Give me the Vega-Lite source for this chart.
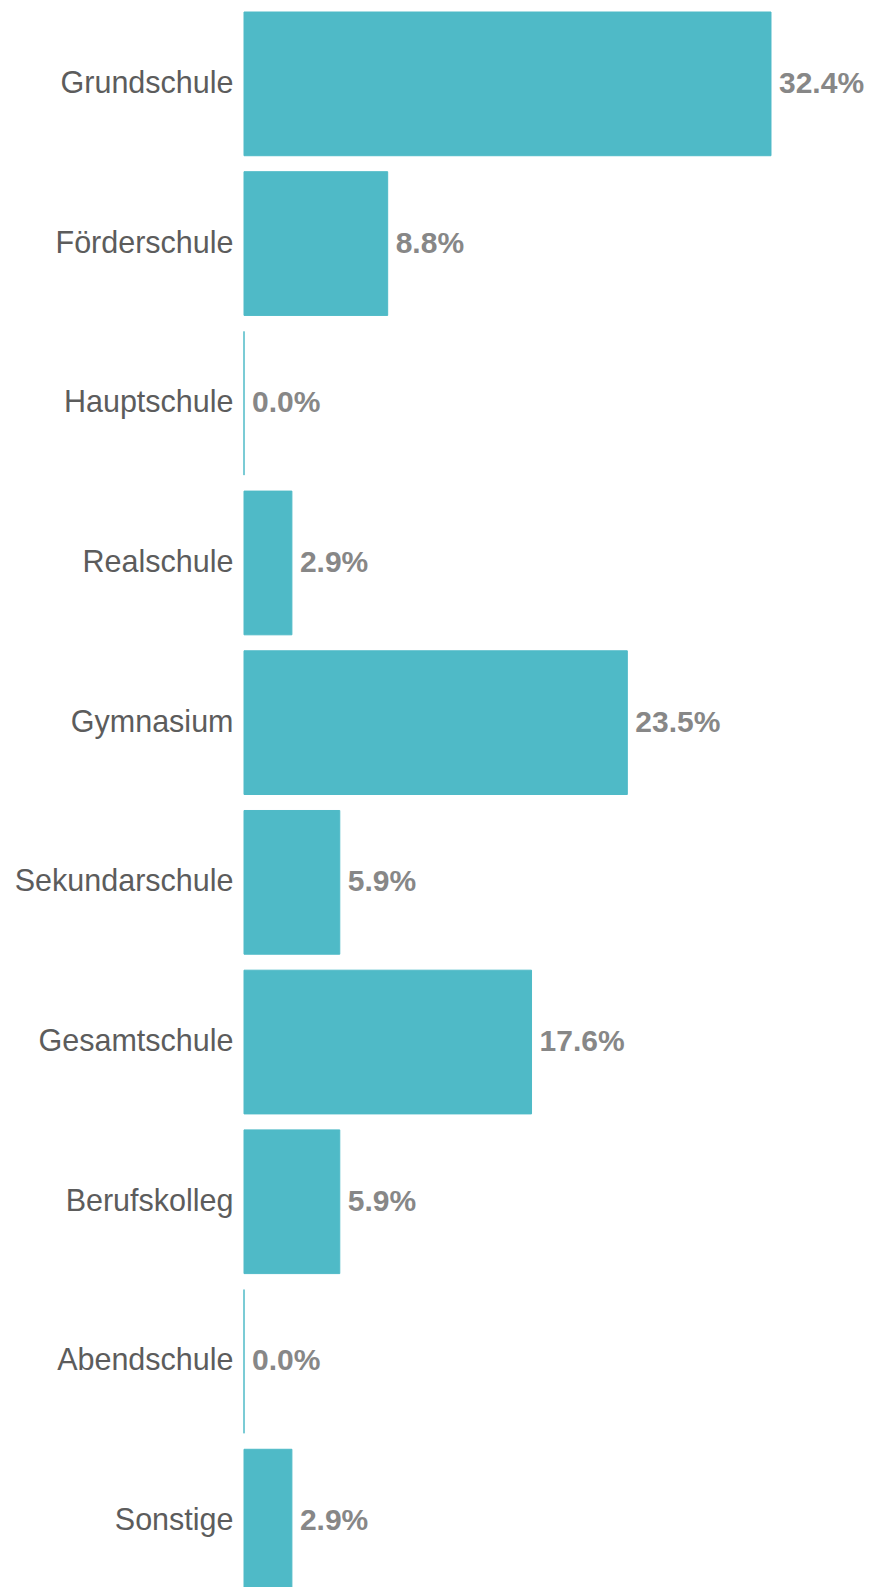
{
  "$schema": "https://vega.github.io/schema/vega-lite/v6.json",
  "autosize": {"type": "none"},
  "padding": {"left": 244, "top": 12, "right": 0, "bottom": 0},
  "width": 628,
  "height": 1581,
  "background": "white",
  "config": {"view": {"stroke": null}},
  "data": {
    "values": [
      {"schulform": "Grundschule", "anteil": 0.3235},
      {"schulform": "Förderschule", "anteil": 0.0882},
      {"schulform": "Hauptschule", "anteil": 0.0},
      {"schulform": "Realschule", "anteil": 0.0294},
      {"schulform": "Gymnasium", "anteil": 0.2353},
      {"schulform": "Sekundarschule", "anteil": 0.0588},
      {"schulform": "Gesamtschule", "anteil": 0.1765},
      {"schulform": "Berufskolleg", "anteil": 0.0588},
      {"schulform": "Abendschule", "anteil": 0.0},
      {"schulform": "Sonstige", "anteil": 0.0294}
    ]
  },
  "encoding": {
    "y": {
      "field": "schulform",
      "type": "nominal",
      "sort": null,
      "scale": {"paddingInner": 0.1, "paddingOuter": 0},
      "axis": {
        "title": null,
        "domain": false,
        "ticks": false,
        "labelFont": "Liberation Sans",
        "labelFontSize": 30.5,
        "labelColor": "#5c5c5c",
        "labelPadding": 11,
        "labelLimit": 0
      }
    },
    "x": {
      "field": "anteil",
      "type": "quantitative",
      "scale": {"domain": [0, 0.3855], "nice": false, "zero": true},
      "axis": null
    }
  },
  "layer": [
    {
      "mark": {"type": "bar", "color": "#4FBAC7", "stroke": "#4FBAC7", "strokeWidth": 1}
    },
    {
      "mark": {
        "type": "text",
        "align": "left",
        "baseline": "middle",
        "dx": 8,
        "font": "Liberation Sans",
        "fontSize": 30,
        "fontWeight": "bold",
        "color": "#878787"
      },
      "encoding": {
        "text": {"field": "anteil", "type": "quantitative", "format": ".1%"}
      }
    }
  ]
}
